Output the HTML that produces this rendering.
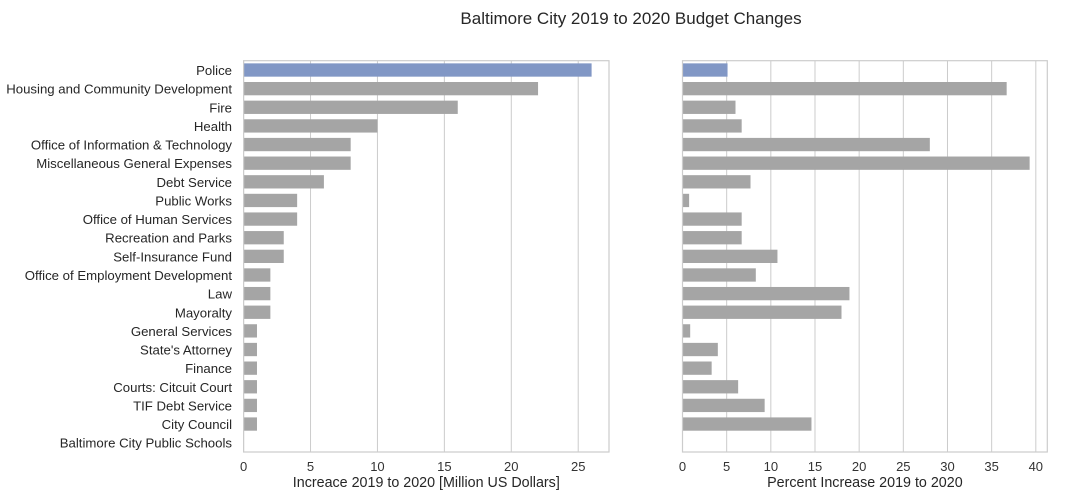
<!DOCTYPE html>
<html><head><meta charset="utf-8"><style>
html,body{margin:0;padding:0;background:#fff;}
svg{display:block;font-family:"Liberation Sans",Arial,sans-serif;}
</style></head><body>
<svg id="chart" width="1067" height="504" viewBox="0 0 1067 504">
<text x="631" y="24" font-size="17" fill="#262626" text-anchor="middle">Baltimore City 2019 to 2020 Budget Changes</text>
<g id="left"></g>
<g id="right"></g>
</svg>
<script>
const categories=["Police","Housing and Community Development","Fire","Health","Office of Information & Technology ","Miscellaneous General Expenses ","Debt Service","Public Works","Office of Human Services ","Recreation and Parks","Self-Insurance Fund ","Office of Employment Development ","Law","Mayoralty ","General Services ","State's Attorney","Finance","Courts: Citcuit Court","TIF Debt Service","City Council","Baltimore City Public Schools"];
const dollarIncrease=[26,22,16,10,8,8,6,4,4,3,3,2,2,2,1,1,1,1,1,1,0];
const percentIncrease=[5.1,36.7,6.0,6.7,28.0,39.3,7.7,0.75,6.7,6.7,10.75,8.3,18.9,18.0,0.87,4.0,3.3,6.3,9.3,14.6,0];
const leftTicks=[0,5,10,15,20,25];
const rightTicks=[0,5,10,15,20,25,30,35,40];
const NS="http://www.w3.org/2000/svg";
const plotTop=60.7,plotBottom=452,nCats=categories.length,band=(plotBottom-plotTop)/nCats,barH=13.3;
function mk(tag,attrs,parent){const e=document.createElementNS(NS,tag);for(const k in attrs)e.setAttribute(k,attrs[k]);parent.appendChild(e);return e;}
function panel(g,x0,x1,max,vals,ticks,xlabel,showCats,prefix){
  const sx=v=>x0+(v/max)*(x1-x0);
  ticks.forEach(t=>{
    const l=mk('line',{x1:sx(t),x2:sx(t),y1:plotTop,y2:plotBottom,stroke:'#cccccc','stroke-width':1},g);
    
    
    const tx=mk('text',{x:sx(t),y:plotBottom+19,'font-size':13,fill:'#333','text-anchor':'middle'},g);
    tx.textContent=t;
    
    
  });
  vals.forEach((v,i)=>{
    const cy=plotTop+band*(i+0.5);
    const r=mk('rect',{x:sx(0),y:cy-barH/2,width:Math.max(0,sx(v)-sx(0)),height:barH,fill:i===0?'#8197c5':'#a5a5a5'},g);
    
    
    if(showCats){
      const t=mk('text',{x:232,y:cy+5,'font-size':13.2,fill:'#262626','text-anchor':'end'},g);
      t.textContent=categories[i].trim();
      
      
    }
  });
  const f=mk('rect',{x:x0,y:plotTop,width:x1-x0,height:plotBottom-plotTop,fill:'none',stroke:'#cccccc','stroke-width':1.2},g);
  
  
  const xl=mk('text',{x:(x0+x1)/2,y:plotBottom+35,'font-size':14.3,fill:'#262626','text-anchor':'middle'},g);
  xl.textContent=xlabel;
  
  
}
panel(document.getElementById('left'),243.6,609,27.3,dollarIncrease,leftTicks,'Increace 2019 to 2020 [Million US Dollars]',true,'left');
panel(document.getElementById('right'),682.5,1047.3,41.3,percentIncrease,rightTicks,'Percent Increase 2019 to 2020',false,'right');
</script>
</body></html>
